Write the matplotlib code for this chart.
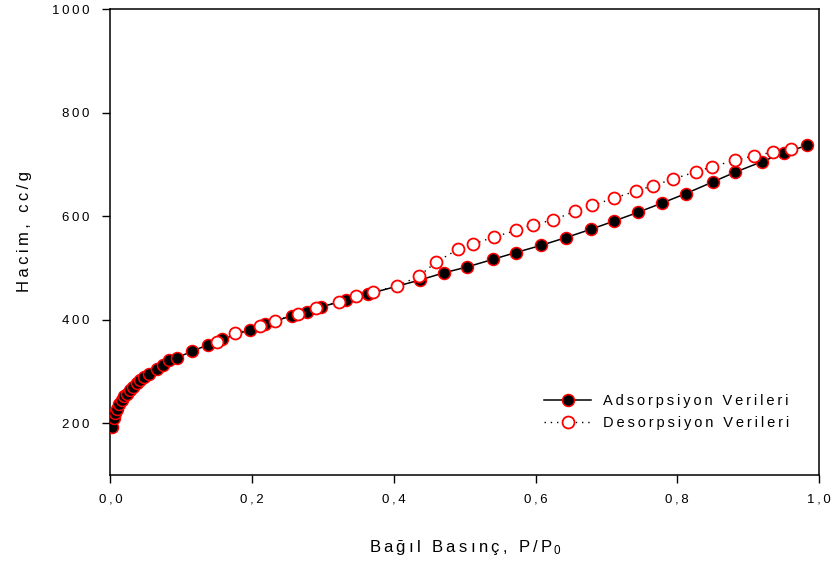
import matplotlib
matplotlib.use("Agg")
import matplotlib.pyplot as plt
from matplotlib.lines import Line2D

plt.rcParams['font.family'] = ['Liberation Sans', 'DejaVu Sans']
plt.rcParams['mathtext.fontset'] = 'custom'
plt.rcParams['mathtext.rm'] = 'Liberation Sans'
plt.rcParams['mathtext.it'] = 'Liberation Sans'

# Adsorption branch: relative pressure P/P0 and volume (cc/g)
ads_p = [0.0025, 0.005, 0.0068, 0.0096, 0.0124, 0.0158, 0.0195, 0.0233, 0.0275,
         0.032, 0.037, 0.042, 0.048, 0.054, 0.066, 0.0745, 0.082, 0.094, 0.115,
         0.138, 0.157, 0.197, 0.218, 0.256, 0.277, 0.297, 0.333, 0.364, 0.437,
         0.471, 0.503, 0.540, 0.572, 0.608, 0.643, 0.678, 0.711, 0.745, 0.779,
         0.812, 0.851, 0.881, 0.920, 0.951, 0.983]
ads_v = [192, 211, 219, 227, 237, 245, 252, 257, 264,
         270, 277, 283, 290, 296, 305, 313, 322, 327, 339,
         352, 362, 381, 391, 408, 415, 425, 438, 450, 477,
         491, 502, 517, 530, 544, 559, 575, 591, 608, 626,
         644, 667, 685, 706, 723, 737]

# Desorption branch
des_p = [0.961, 0.935, 0.908, 0.881, 0.849, 0.826, 0.794, 0.765, 0.742,
         0.710, 0.680, 0.656, 0.625, 0.596, 0.573, 0.541, 0.511, 0.490, 0.460,
         0.435, 0.404, 0.371, 0.347, 0.322, 0.290, 0.265, 0.232, 0.211, 0.176,
         0.150]
des_v = [731, 724, 717, 708, 696, 686, 672, 659, 649,
         635, 621, 610, 593, 584, 573, 560, 546, 536, 512,
         484, 465, 454, 446, 435, 422, 412, 398, 388, 374,
         357]

x_ticks = [0.0, 0.2, 0.4, 0.6, 0.8, 1.0]
x_tick_labels = ['0,0', '0,2', '0,4', '0,6', '0,8', '1,0']
y_ticks = [200, 400, 600, 800, 1000]
y_tick_labels = ['200', '400', '600', '800', '1000']

legend_labels = ['Adsorpsiyon Verileri', 'Desorpsiyon Verileri']

TS = '\u2009'
WS = '\u2009 \u2009'


def spaced(s):
    """Widen the tracking of a label: thin spaces between letters, wider gaps between words."""
    return WS.join(TS.join(w) for w in s.split(' '))


fig = plt.figure(figsize=(8.37, 5.65), dpi=100)
ax = fig.add_axes([0.132, 0.1593, 0.8465, 0.824])

ax.plot(ads_p, ads_v, color='black', lw=1.1, ls='-', marker='o', ms=8.6,
        mfc='black', mec='red', mew=1.1, zorder=3)
ax.plot(des_p, des_v, color='black', lw=1.0, ls=(0, (1, 3.5)), marker='o', ms=8.6,
        mfc='white', mec='red', mew=1.3, zorder=4)

ax.set_xlim(0, 1.0)
ax.set_ylim(100, 1000)
ax.set_xticks(x_ticks)
ax.set_xticklabels([spaced(t) for t in x_tick_labels])
ax.set_yticks(y_ticks)
ax.set_yticklabels([spaced(t) for t in y_tick_labels])
ax.tick_params(direction='out', length=6, width=1, labelsize=9.5, colors='black')
ax.tick_params(axis='y', pad=9)
ax.tick_params(axis='x', pad=7)
for sp in ax.spines.values():
    sp.set_linewidth(1.1)

ax.set_xlabel(spaced('Bağıl Basınç, P/P') + r'$_{\,0}$', fontsize=12, labelpad=24)
ax.set_ylabel(spaced('Hacim, cc/g'), fontsize=12)
ax.yaxis.set_label_coords(-0.111, 0.522)

handles = [
    Line2D([], [], color='black', lw=1.1, ls='-', marker='o', ms=8.6,
           mfc='black', mec='red', mew=1.1),
    Line2D([], [], color='black', lw=1.0, ls=(0, (1, 3.5)), marker='o', ms=8.6,
           mfc='white', mec='red', mew=1.3),
]
ax.legend(handles, [spaced(l) for l in legend_labels],
          loc='center left', bbox_to_anchor=(0.594, 0.135), frameon=False,
          fontsize=10.5, handlelength=3.2, handletextpad=0.8, labelspacing=0.55,
          numpoints=1)

fig.savefig('out.png', dpi=100)
